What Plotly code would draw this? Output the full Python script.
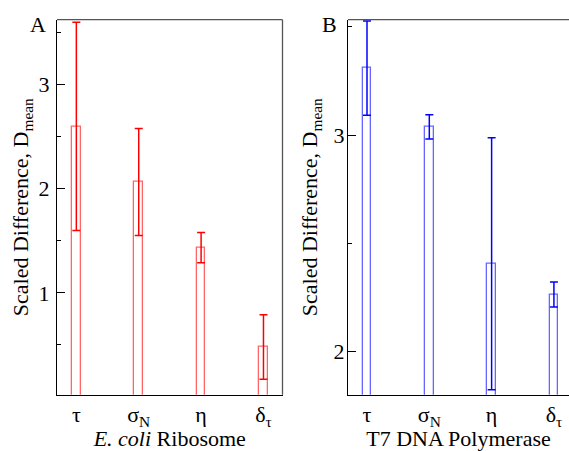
import plotly.graph_objects as go

categories = ["τ", "σ<sub>N</sub>", "η", "δ<sub>τ</sub>"]
ribo_values = [2.60, 2.065, 1.435, 0.48]
ribo_errors = [1.00, 0.515, 0.145, 0.31]
poly_values = [3.309, 3.038, 2.405, 2.263]
poly_errors = [0.218, 0.056, 0.582, 0.058]
ribo_title = "<i>E. coli</i> Ribosome"
poly_title = "T7 DNA Polymerase"
ytitle = "Scaled Difference, D<sub>mean</sub>"

W, H = 569, 451
FONT = "Liberation Serif"
xpos = list(range(len(categories)))

fig = go.Figure()
fig.add_trace(go.Bar(
    x=xpos, y=ribo_values, width=0.14,
    marker=dict(color="rgba(0,0,0,0)", line=dict(color="rgba(255,0,0,0.6)", width=1.3)),
    error_y=dict(type="data", array=ribo_errors, color="#ff0000", thickness=1.5, width=4),
    xaxis="x", yaxis="y", showlegend=False))
fig.add_trace(go.Bar(
    x=xpos, y=poly_values, width=0.14,
    marker=dict(color="rgba(0,0,0,0)", line=dict(color="rgba(0,0,255,0.6)", width=1.3)),
    error_y=dict(type="data", array=poly_errors, color="#0000ff", thickness=1.5, width=4),
    xaxis="x2", yaxis="y2", showlegend=False))

ydom = [(H - 401) / H, (H - 20) / H]


def xaxis(domain, rng, anchor, title):
    return go.layout.XAxis(
        domain=domain, range=rng, anchor=anchor,
        tickmode="array", tickvals=xpos, ticktext=categories, ticks="",
        showline=True, linecolor="black", linewidth=1.3, showgrid=False, zeroline=False,
        tickfont=dict(family=FONT, size=22, color="black"),
        title=dict(text=title, font=dict(family=FONT, size=22, color="black"), standoff=6))


def yaxis(rng, anchor, label_standoff, standoff):
    return go.layout.YAxis(
        domain=ydom, range=rng, anchor=anchor,
        showline=True, linecolor="black", linewidth=1.3, showgrid=False, zeroline=False,
        ticks="inside", ticklen=8, tickcolor="black", dtick=1, tick0=0,
        minor=dict(ticks="inside", ticklen=4, dtick=0.5, tickcolor="black"),
        tickfont=dict(family=FONT, size=22, color="black"), ticklabelstandoff=label_standoff,
        title=dict(text=ytitle, font=dict(family=FONT, size=22, color="black"), standoff=standoff))


fig.update_layout(
    width=W, height=H, margin=dict(l=0, r=0, t=0, b=0),
    paper_bgcolor="white", plot_bgcolor="white", bargap=0,
    font=dict(family=FONT, color="black", size=22),
    xaxis=xaxis([57 / W, 282.5 / W], [-0.31, 3.305], "y", ribo_title),
    yaxis=yaxis([0.02, 3.625], "x", 2, 3),
    xaxis2=xaxis([348 / W, 1.0], [-0.305, 3.242], "y2", poly_title),
    yaxis2=yaxis([1.8, 3.533], "x2", -2, 9),
)

border = "#555555"
fig.add_shape(type="line", xref="x domain", yref="y domain", x0=0, x1=1, y0=1, y1=1,
              line=dict(color=border, width=1.3))
fig.add_shape(type="line", xref="x domain", yref="y domain", x0=1, x1=1, y0=0, y1=1,
              line=dict(color=border, width=1.3))
fig.add_shape(type="line", xref="x2 domain", yref="y2 domain", x0=0, x1=1, y0=1, y1=1,
              line=dict(color=border, width=1.3))

fig.add_annotation(text="A", xref="paper", yref="paper", x=48 / W, y=(H - 25) / H,
                   showarrow=False, xanchor="right", yanchor="middle",
                   font=dict(family=FONT, size=22, color="black"))
fig.add_annotation(text="B", xref="paper", yref="paper", x=339 / W, y=(H - 25) / H,
                   showarrow=False, xanchor="right", yanchor="middle",
                   font=dict(family=FONT, size=22, color="black"))

fig.write_html("out.html", config={"displayModeBar": False},
               post_script="document.body.style.margin='0';document.body.style.overflow='hidden';")
